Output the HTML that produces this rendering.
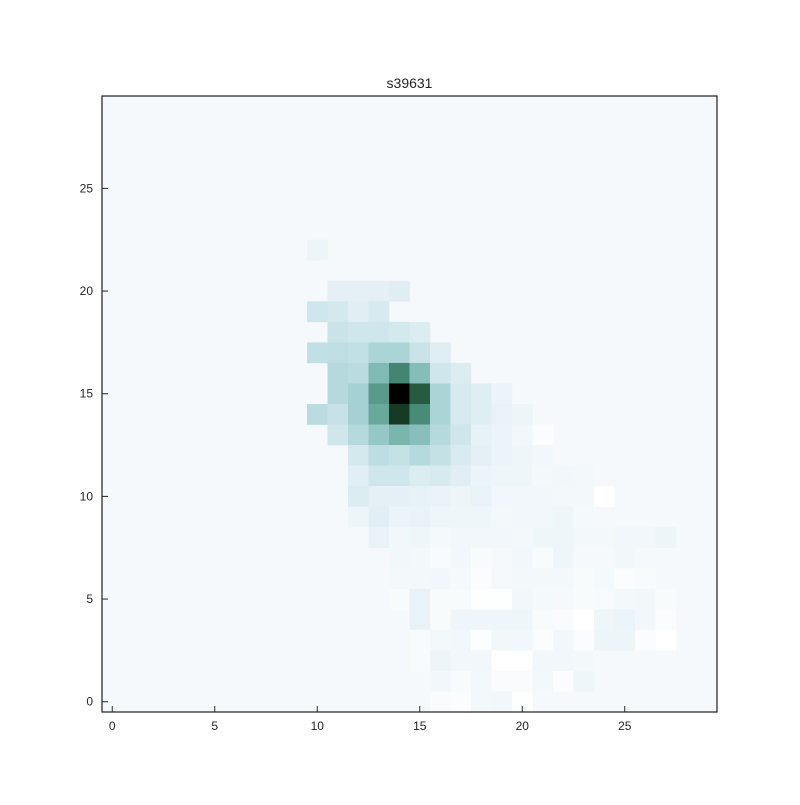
<!DOCTYPE html>
<html><head><meta charset="utf-8"><style>
body{margin:0;background:#fff;}
svg text{font-family:"Liberation Sans","DejaVu Sans",sans-serif;fill:#262626;}
</style></head><body>
<svg id="chart" width="800" height="800" xmlns="http://www.w3.org/2000/svg">
<rect width="800" height="800" fill="#fff"/>
<text x="409.5" y="88" font-size="14" text-anchor="middle">s39631</text>
<g id="cells"></g>
<g id="axes"></g>
</svg>
<script>
const xTicks=[0,5,10,15,20,25];
const yTicks=[0,5,10,15,20,25];
const baseValue=0.04;
const cellX=[10, 11,12,13,14, 10,11,12,13, 11,12,13,14,15, 10,11,12,13,14,15,16, 11,12,13,14,15,16,17,
 11,12,13,14,15,16,17,18,19, 10,11,12,13,14,15,16,17,18,19,20, 11,12,13,14,15,16,17,18,19,20,21,
 12,13,14,15,16,17,18,19,20,21, 12,13,14,15,16,17,18,19,20,21,22,23,
 12,13,14,15,16,17,18,19,20,21,22,23,24, 12,13,14,15,16,17,18,19,20,21,22,23,
 13,14,15,16,17,18,19,20,21,22,23,24,25,26,27, 14,15,16,17,18,19,20,21,22,23,24,25,
 14,15,16,17,18,19,20,21,22,23,24,25,26, 14,15,16,17,18,19,20,21,22,23,24,25,26,27,
 15,16,17,18,19,20,21,22,23,24,25,26,27, 15,16,17,18,19,20,21,22,23,24,25,26,27,
 15,16,17,18,19,20,21,22,23, 16,17,18,19,20,21,22,23, 16,17,18,19,20];
const cellY=[22, 20,20,20,20, 19,19,19,19, 18,18,18,18,18, 17,17,17,17,17,17,17, 16,16,16,16,16,16,16,
 15,15,15,15,15,15,15,15,15, 14,14,14,14,14,14,14,14,14,14,14, 13,13,13,13,13,13,13,13,13,13,13,
 12,12,12,12,12,12,12,12,12,12, 11,11,11,11,11,11,11,11,11,11,11,11,
 10,10,10,10,10,10,10,10,10,10,10,10,10, 9,9,9,9,9,9,9,9,9,9,9,9,
 8,8,8,8,8,8,8,8,8,8,8,8,8,8,8, 7,7,7,7,7,7,7,7,7,7,7,7,
 6,6,6,6,6,6,6,6,6,6,6,6,6, 5,5,5,5,5,5,5,5,5,5,5,5,5,5,
 4,4,4,4,4,4,4,4,4,4,4,4,4, 3,3,3,3,3,3,3,3,3,3,3,3,3,
 2,2,2,2,2,2,2,2,2, 1,1,1,1,1,1,1,1, 0,0,0,0,0];
const cellV=[0.08, 0.12,0.12,0.12,0.14, 0.2,0.18,0.13,0.17, 0.22,0.2,0.2,0.18,0.15, 0.25,0.26,0.25,0.34,0.34,0.22,0.14, 0.3,0.28,0.5,0.72,0.48,0.2,0.15,
 0.3,0.36,0.64,1.0,0.85,0.34,0.17,0.14,0.09, 0.28,0.23,0.36,0.58,0.92,0.7,0.34,0.17,0.14,0.1,0.08, 0.2,0.3,0.42,0.52,0.47,0.3,0.2,0.11,0.09,0.06,0.02,
 0.18,0.27,0.24,0.3,0.24,0.16,0.12,0.09,0.07,0.06, 0.13,0.2,0.2,0.15,0.17,0.13,0.09,0.07,0.07,0.05,0.06,0.05,
 0.15,0.12,0.12,0.11,0.1,0.08,0.1,0.06,0.06,0.06,0.05,0.05,0.0, 0.08,0.13,0.09,0.1,0.07,0.07,0.07,0.05,0.06,0.06,0.07,0.045,
 0.1,0.06,0.07,0.045,0.06,0.06,0.06,0.05,0.07,0.07,0.05,0.05,0.06,0.06,0.08, 0.06,0.05,0.03,0.06,0.03,0.04,0.06,0.03,0.07,0.04,0.04,0.055,
 0.05,0.05,0.06,0.04,0.02,0.04,0.05,0.05,0.05,0.03,0.045,0.02,0.03, 0.03,0.1,0.03,0.03,0.01,0.01,0.06,0.045,0.04,0.03,0.035,0.05,0.055,0.03,
 0.1,0.03,0.07,0.07,0.07,0.07,0.03,0.025,0.0,0.07,0.09,0.06,0.02, 0.03,0.05,0.06,0.015,0.055,0.06,0.02,0.06,0.02,0.08,0.08,0.02,0.0,
 0.03,0.08,0.06,0.06,0.0,0.0,0.06,0.06,0.05, 0.06,0.03,0.05,0.025,0.025,0.05,0.02,0.07, 0.025,0.02,0.05,0.06,0.01];

const L=102,R=717,T=96,B=712,N=30;
const xs=v=>L+(v+0.5)*(R-L)/N;
const ys=v=>B-(v+0.5)*(B-T)/N;
const cw=(R-L)/N,ch=(B-T)/N;
const stops=[[0,[255,255,255]],[0.04,[245,249,251]],[0.1,[233,243,247]],[0.2,[206,230,236]],[0.35,[168,211,214]],[0.5,[128,186,180]],[0.7,[72,140,120]],[0.9,[28,74,46]],[1,[0,0,0]]];
function color(v){
  for(let i=1;i<stops.length;i++){
    if(v<=stops[i][0]){const a=stops[i-1],b=stops[i],t=(v-a[0])/(b[0]-a[0]);
      return 'rgb('+a[1].map((c,k)=>Math.round(c+(b[1][k]-c)*t)).join(',')+')';}
  }
  return 'rgb(0,0,0)';
}
const NS='http://www.w3.org/2000/svg';
const g=document.getElementById('cells');
const bg=document.createElementNS(NS,'rect');


bg.setAttribute('x',L);bg.setAttribute('y',T);bg.setAttribute('width',R-L);bg.setAttribute('height',B-T);
bg.setAttribute('fill',color(baseValue));g.appendChild(bg);
for(let i=0;i<cellX.length;i++){
  const r=document.createElementNS(NS,'rect');
  
  
  r.setAttribute('x',(xs(cellX[i])-cw/2).toFixed(2));
  r.setAttribute('y',(ys(cellY[i])-ch/2).toFixed(2));
  r.setAttribute('width',(cw+0.3).toFixed(2));
  r.setAttribute('height',(ch+0.3).toFixed(2));
  r.setAttribute('fill',color(cellV[i]));
  g.appendChild(r);
}
const ax=document.getElementById('axes');
const fr=document.createElementNS(NS,'rect');


fr.setAttribute('x',L);fr.setAttribute('y',T);fr.setAttribute('width',R-L);fr.setAttribute('height',B-T);
fr.setAttribute('fill','none');fr.setAttribute('stroke','#262626');fr.setAttribute('stroke-width','1.25');
ax.appendChild(fr);
xTicks.forEach(t=>{
  const x=xs(t);
  const l=document.createElementNS(NS,'line');
  
  
  l.setAttribute('x1',x);l.setAttribute('x2',x);l.setAttribute('y1',B);l.setAttribute('y2',B-6);
  l.setAttribute('stroke','#262626');ax.appendChild(l);
  const s=document.createElementNS(NS,'text');
  
  
  s.setAttribute('x',x);s.setAttribute('y',B+18);s.setAttribute('font-size','12');s.setAttribute('text-anchor','middle');
  s.textContent=t;ax.appendChild(s);
});
yTicks.forEach(t=>{
  const y=ys(t);
  const l=document.createElementNS(NS,'line');
  
  
  l.setAttribute('x1',L);l.setAttribute('x2',L+6);l.setAttribute('y1',y);l.setAttribute('y2',y);
  l.setAttribute('stroke','#262626');ax.appendChild(l);
  const s=document.createElementNS(NS,'text');
  
  
  s.setAttribute('x',L-9);s.setAttribute('y',y+4);s.setAttribute('font-size','12');s.setAttribute('text-anchor','end');
  s.textContent=t;ax.appendChild(s);
});
</script>
</body></html>
